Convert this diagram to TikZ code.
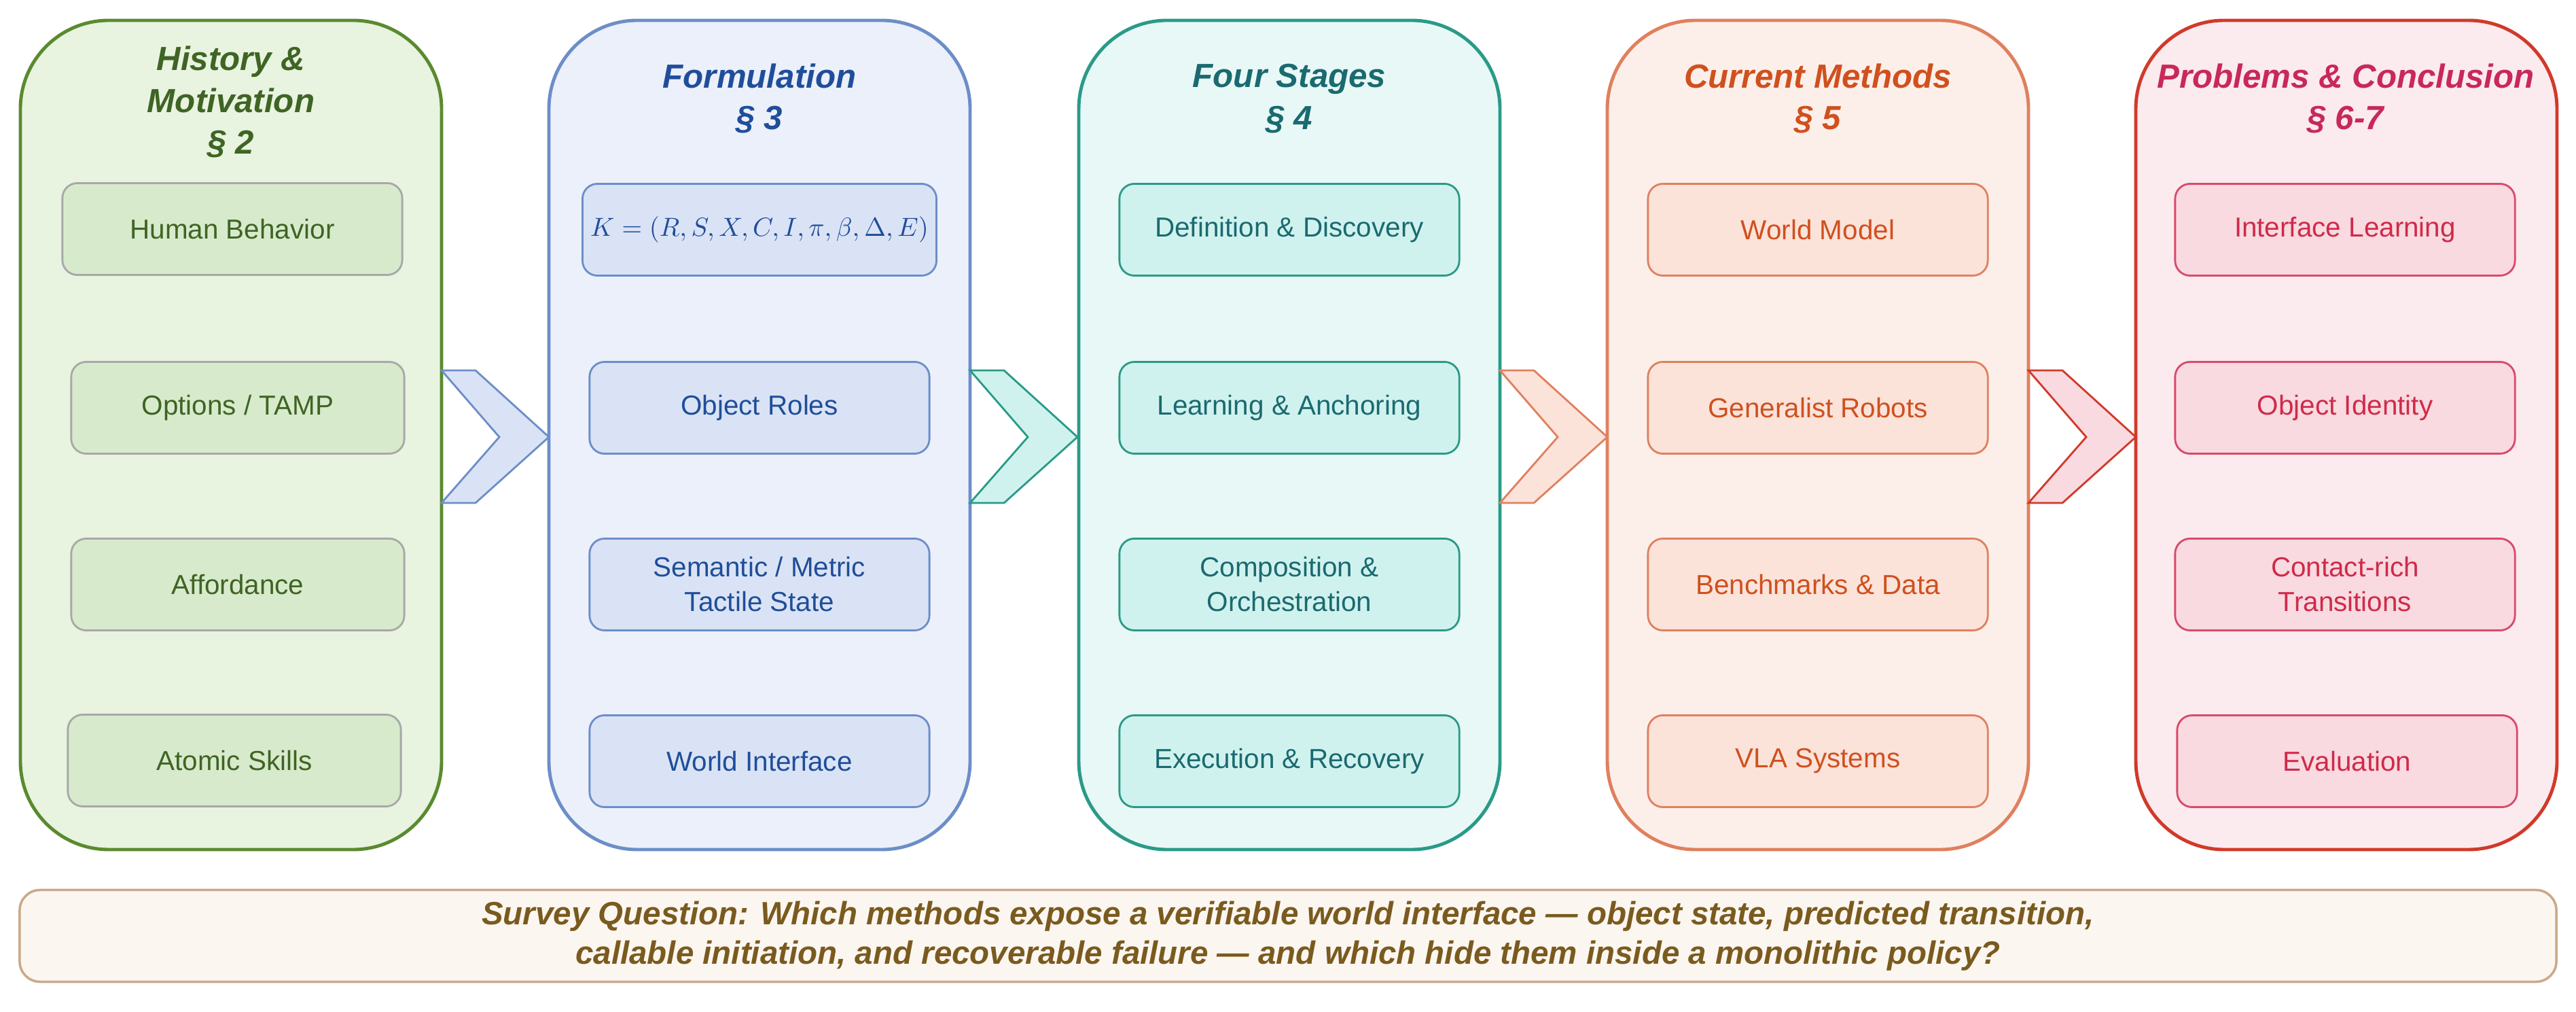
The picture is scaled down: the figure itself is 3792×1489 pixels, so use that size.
\documentclass[tikz,border=0pt]{standalone}
\usepackage{fontspec}
\setmainfont{Liberation Sans}
\begin{document}
\begin{tikzpicture}[x=0.01cm,y=-0.01cm]
\useasboundingbox (0,0) rectangle (3792,1489);
\definecolor{bA}{HTML}{5A8A2E}\definecolor{fA}{HTML}{E8F3E0}\definecolor{iA}{HTML}{D8EACC}\definecolor{tA}{HTML}{3F6424}\definecolor{jA}{HTML}{A8A8A8}
\definecolor{bB}{HTML}{6C8EC8}\definecolor{fB}{HTML}{ECF0FA}\definecolor{iB}{HTML}{DAE3F5}\definecolor{tB}{HTML}{1F4E9A}
\definecolor{bC}{HTML}{2A9A88}\definecolor{fC}{HTML}{E8F8F6}\definecolor{iC}{HTML}{D0F2EE}\definecolor{tC}{HTML}{1A6A70}
\definecolor{bD}{HTML}{E0805E}\definecolor{fD}{HTML}{FCEFEA}\definecolor{iD}{HTML}{FBE3DA}\definecolor{tD}{HTML}{D0501E}
\definecolor{bE}{HTML}{D03A2A}\definecolor{fE}{HTML}{FBEAEE}\definecolor{iE}{HTML}{F8DAE0}\definecolor{tE}{HTML}{D02A4A}\definecolor{jE}{HTML}{D84A6A}\definecolor{hE}{HTML}{C8285A}
\definecolor{bQ}{HTML}{C9A98A}\definecolor{fQ}{HTML}{FBF6F0}\definecolor{tQ}{HTML}{7A5A1E}
\tikzset{
 col/.style={draw=#1, line width=1.4pt, rounded corners=1.3cm},
 inner/.style={rounded corners=0.22cm, line width=0.8pt, minimum width=5cm, minimum height=1.35cm, align=center, font=\fontsize{11.5}{14.5}\selectfont},
 ttl/.style={font=\fontsize{14}{17.5}\selectfont\bfseries\itshape, align=center},
 chev/.style={line width=0.8pt}
}
% columns
\foreach \x/\c in {30/A,808/B,1588/C,2366/D,3144/E}{
  \draw[col=b\c, fill=f\c] (\x,30) rectangle ++(620,1220);
}
% titles
\node[ttl, text=tA] (t1) at (340,150) {History \&\\Motivation\\§ 2};
\node[ttl, text=tB] (t2) at (1118,145) {Formulation\\§ 3};
\node[ttl, text=tC] (t3) at (1898,145) {Four Stages\\§ 4};
\node[ttl, text=tD] (t4) at (2676,145) {Current Methods\\§ 5};
\node[ttl, text=hE] (t5) at (3453,145) {Problems \& Conclusion\\§ 6-7};
% inner boxes
\node[inner, draw=jA, fill=iA, text=tA] (a1) at (342,337) {Human Behavior};
\node[inner, draw=jA, fill=iA, text=tA, minimum width=4.9cm] (a2) at (350,600) {Options / TAMP};
\node[inner, draw=jA, fill=iA, text=tA, minimum width=4.9cm] (a3) at (350,860) {Affordance};
\node[inner, draw=jA, fill=iA, text=tA, minimum width=4.9cm] (a4) at (345,1119) {Atomic Skills};
\node[inner, draw=bB, fill=iB, text=tB, font=\fontsize{10.5}{12}\selectfont] (b1) at (1118,338) {$K=(R,S,X,C,I,\pi,\beta,\Delta,E)$};
\node[inner, draw=bB, fill=iB, text=tB] (b2) at (1118,600) {Object Roles};
\node[inner, draw=bB, fill=iB, text=tB] (b3) at (1118,860) {Semantic / Metric\\Tactile State};
\node[inner, draw=bB, fill=iB, text=tB] (b4) at (1118,1120) {World Interface};
\node[inner, draw=bC, fill=iC, text=tC] (c1) at (1898,338) {Definition \& Discovery};
\node[inner, draw=bC, fill=iC, text=tC] (c2) at (1898,600) {Learning \& Anchoring};
\node[inner, draw=bC, fill=iC, text=tC] (c3) at (1898,860) {Composition \&\\Orchestration};
\node[inner, draw=bC, fill=iC, text=tC] (c4) at (1898,1120) {Execution \& Recovery};
\node[inner, draw=bD, fill=iD, text=tD] (d1) at (2676,338) {World Model};
\node[inner, draw=bD, fill=iD, text=tD] (d2) at (2676,600) {Generalist Robots};
\node[inner, draw=bD, fill=iD, text=tD] (d3) at (2676,860) {Benchmarks \& Data};
\node[inner, draw=bD, fill=iD, text=tD] (d4) at (2676,1120) {VLA Systems};
\node[inner, draw=jE, fill=iE, text=tE] (e1) at (3452,338) {Interface Learning};
\node[inner, draw=jE, fill=iE, text=tE] (e2) at (3452,600) {Object Identity};
\node[inner, draw=jE, fill=iE, text=tE] (e3) at (3452,860) {Contact-rich\\Transitions};
\node[inner, draw=jE, fill=iE, text=tE] (e4) at (3455,1120) {Evaluation};
% chevrons
\foreach \x/\c in {650/B,1428/C,2208/D,2986/E}{
  \draw[chev, draw=b\c, fill=i\c] (\x,545) -- ++(50,0) -- ++(108,98) -- ++(-108,97) -- ++(-50,0) -- ++(85,-97) -- cycle;
}
% bottom
\node[draw=bQ, fill=fQ, line width=1pt, rounded corners=0.3cm, minimum width=37.32cm, minimum height=1.35cm, align=center, text=tQ, font=\fontsize{13.5}{16.5}\selectfont\bfseries\itshape] (q) at (1896,1377) {Survey Question: Which methods expose a verifiable world interface — object state, predicted transition,\\callable initiation, and recoverable failure — and which hide them inside a monolithic policy?};
\end{tikzpicture}
\end{document}
